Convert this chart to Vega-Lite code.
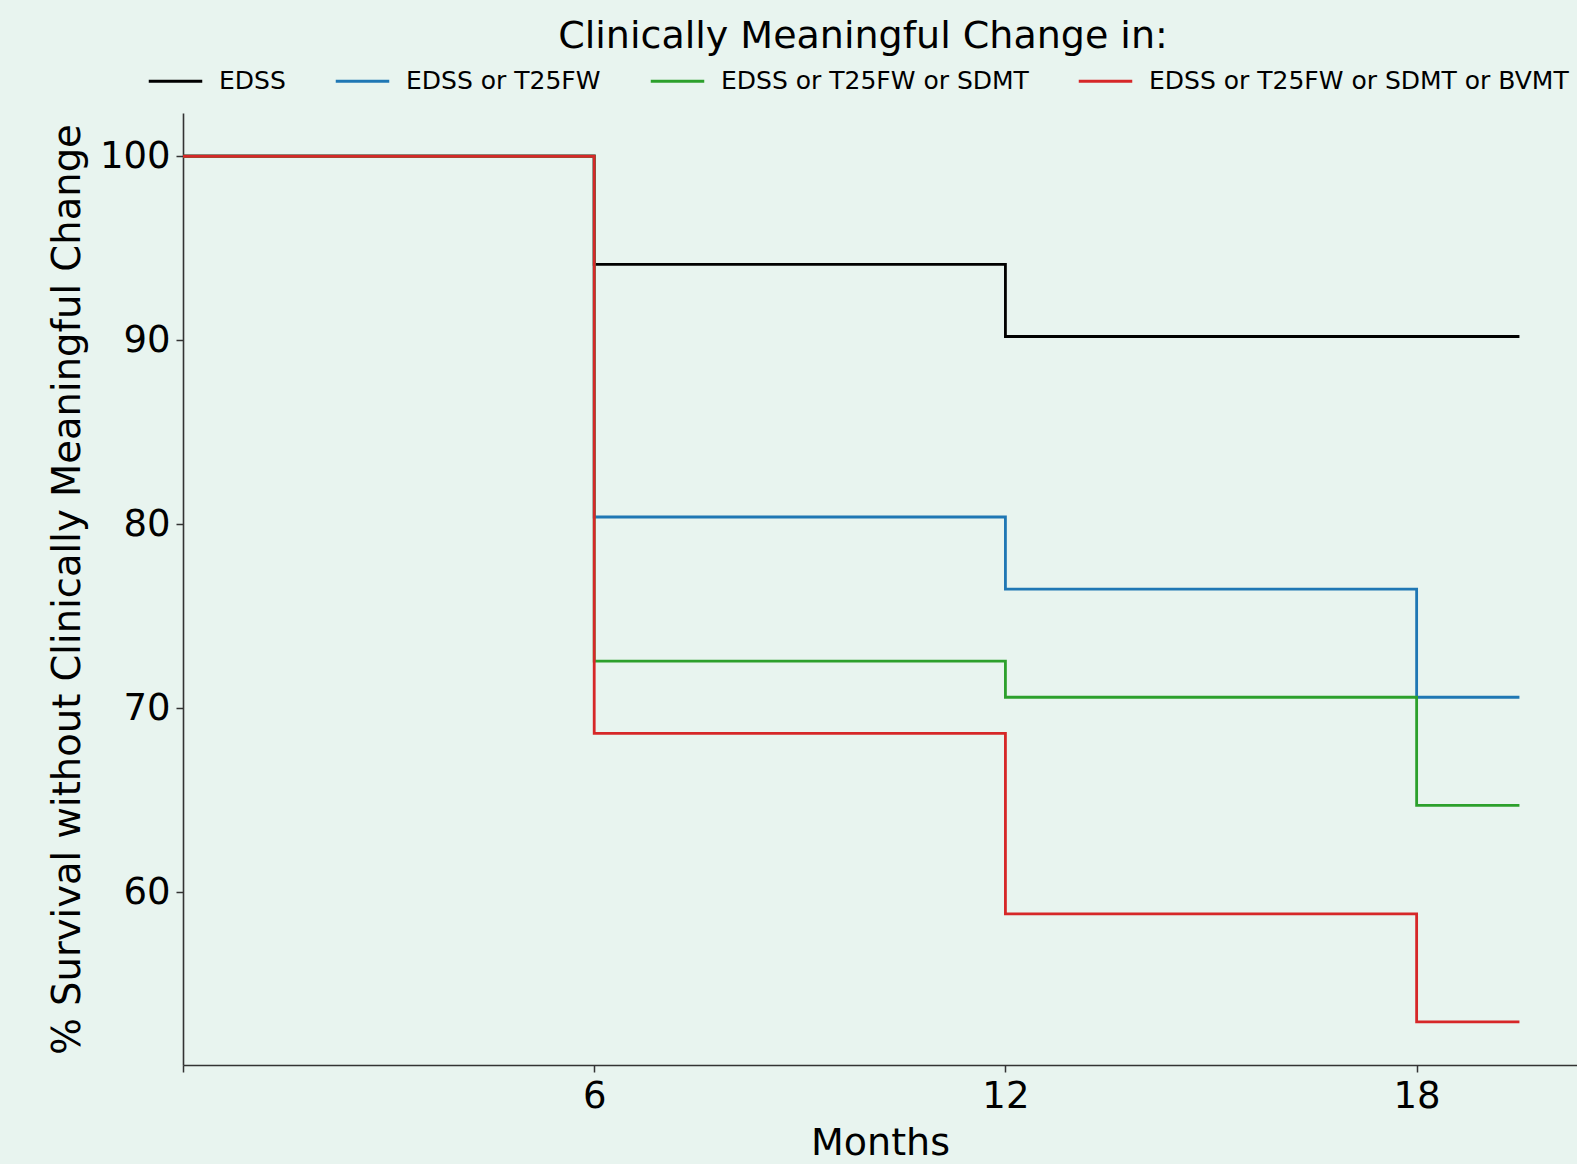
{
  "$schema": "https://vega.github.io/schema/vega-lite/v6.json",
  "autosize": {"type": "none"},
  "padding": {"left": 183, "top": 113, "right": 0, "bottom": 99},
  "width": 1394,
  "height": 952,
  "background": "#e8f4ef",
  "title": {
    "text": "Clinically Meaningful Change in:",
    "font": "DejaVu Sans",
    "fontSize": 38,
    "fontWeight": "normal",
    "color": "#000000",
    "anchor": "middle",
    "frame": "group",
    "dx": -17,
    "offset": -3.5
  },
  "config": {
    "view": {"stroke": null},
    "font": "DejaVu Sans"
  },
  "data": {
    "values": [
      {"month": 0, "pct": 100, "series": "EDSS"},
      {"month": 6, "pct": 94.12, "series": "EDSS"},
      {"month": 12, "pct": 90.2, "series": "EDSS"},
      {"month": 18, "pct": 90.2, "series": "EDSS"},
      {"month": 19.5, "pct": 90.2, "series": "EDSS"},
      {"month": 0, "pct": 100, "series": "EDSS or T25FW"},
      {"month": 6, "pct": 80.39, "series": "EDSS or T25FW"},
      {"month": 12, "pct": 76.47, "series": "EDSS or T25FW"},
      {"month": 18, "pct": 70.59, "series": "EDSS or T25FW"},
      {"month": 19.5, "pct": 70.59, "series": "EDSS or T25FW"},
      {"month": 0, "pct": 100, "series": "EDSS or T25FW or SDMT"},
      {"month": 6, "pct": 72.55, "series": "EDSS or T25FW or SDMT"},
      {"month": 12, "pct": 70.59, "series": "EDSS or T25FW or SDMT"},
      {"month": 18, "pct": 64.71, "series": "EDSS or T25FW or SDMT"},
      {"month": 19.5, "pct": 64.71, "series": "EDSS or T25FW or SDMT"},
      {"month": 0, "pct": 100, "series": "EDSS or T25FW or SDMT or BVMT"},
      {"month": 6, "pct": 68.63, "series": "EDSS or T25FW or SDMT or BVMT"},
      {"month": 12, "pct": 58.82, "series": "EDSS or T25FW or SDMT or BVMT"},
      {"month": 18, "pct": 52.94, "series": "EDSS or T25FW or SDMT or BVMT"},
      {"month": 19.5, "pct": 52.94, "series": "EDSS or T25FW or SDMT or BVMT"}
    ]
  },
  "mark": {"type": "line", "interpolate": "step-after", "strokeWidth": 2.8, "clip": true},
  "encoding": {
    "x": {
      "field": "month",
      "type": "quantitative",
      "scale": {"domain": [0, 20.34], "nice": false, "zero": false},
      "axis": {
        "title": "Months",
        "titleFontSize": 38,
        "titleFontWeight": "normal",
        "titleColor": "#000000",
        "titlePadding": 10,
        "values": [0, 6, 12, 18],
        "labelExpr": "datum.value == 0 ? '' : datum.label",
        "labelFontSize": 37,
        "labelColor": "#000000",
        "labelPadding": 6,
        "tickSize": 7,
        "tickWidth": 1.5,
        "tickColor": "#333333",
        "domainColor": "#333333",
        "domainWidth": 1.6,
        "grid": false
      }
    },
    "y": {
      "field": "pct",
      "type": "quantitative",
      "scale": {"domain": [50.6, 102.35], "nice": false, "zero": false},
      "axis": {
        "title": "% Survival without Clinically Meaningful Change",
        "titleFontSize": 38.5,
        "titleFontWeight": "normal",
        "titleColor": "#000000",
        "titlePadding": 12,
        "values": [60, 70, 80, 90, 100],
        "labelFontSize": 37,
        "labelColor": "#000000",
        "labelPadding": 6,
        "tickSize": 7,
        "tickWidth": 1.5,
        "tickColor": "#333333",
        "domainColor": "#333333",
        "domainWidth": 1.6,
        "grid": false
      }
    },
    "color": {
      "field": "series",
      "type": "nominal",
      "scale": {
        "domain": ["EDSS", "EDSS or T25FW", "EDSS or T25FW or SDMT", "EDSS or T25FW or SDMT or BVMT"],
        "range": ["#000000", "#1f77b4", "#2ca02c", "#d62728"]
      },
      "legend": {
        "title": null,
        "orient": "none",
        "direction": "horizontal",
        "columns": 4,
        "legendX": -36,
        "legendY": -60.5,
        "padding": 0,
        "symbolType": "stroke",
        "symbolSize": 2862,
        "symbolStrokeWidth": 2.8,
        "labelFontSize": 25,
        "labelColor": "#000000",
        "labelOffset": 15,
        "columnPadding": 44,
        "labelLimit": 1000
      }
    }
  }
}
